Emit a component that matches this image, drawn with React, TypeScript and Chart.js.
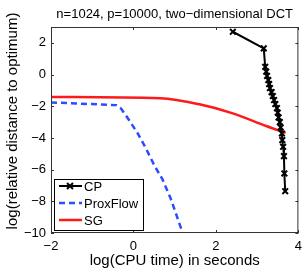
import React, { useEffect, useRef } from "react";
import { Chart, registerables } from "chart.js";

Chart.register(...registerables);

const titleText = "n=1024, p=10000, two\u2212dimensional DCT";
const xLabel = "log(CPU time) in seconds";
const yLabel = "log(relative distance to optimum)";
const xTicks = [-2, 0, 2, 4];
const yTicks = [-10, -8, -6, -4, -2, 0, 2];

const cpX = [2.41, 3.16, 3.195, 3.22, 3.24, 3.27, 3.29, 3.31, 3.35, 3.38, 3.41, 3.44, 3.48, 3.5, 3.52, 3.55, 3.57, 3.6, 3.61, 3.63, 3.65, 3.66, 3.68];
const cpY = [2.7, 1.65, 0.49, 0.18, -0.09, -0.35, -0.6, -0.85, -1.11, -1.36, -1.61, -1.86, -2.12, -2.41, -2.71, -3.0, -3.34, -3.72, -4.14, -4.56, -5.15, -6.24, -7.36];

const pfX = [-2, -0.42, -0.3, -0.1, 0.1, 0.3, 0.5, 0.7, 0.9, 1.1, 1.3];
const pfY = [-1.76, -1.93, -2.15, -2.9, -3.7, -4.65, -5.7, -6.6, -7.8, -9.3, -10.8];

const sgX = [-2, 0.65, 1.6, 2.41, 3.22, 3.69];
const sgY = [-1.42, -1.5, -1.88, -2.45, -3.25, -3.68];

const FONT = "'Liberation Sans', Arial, Helvetica, sans-serif";
const fmt = (v: number) => (v < 0 ? "\u2212" + Math.abs(v) : String(v));

const zip = (xs: number[], ys: number[]) => xs.map((x, i) => ({ x, y: ys[i] }));

const decor = {
  id: "decor",
  afterDraw(chart: any) {
    const { ctx, chartArea: a, scales } = chart;
    const xs = scales.x;
    const ys = scales.y;
    ctx.save();
    // box
    ctx.strokeStyle = "#333";
    ctx.lineWidth = 1;
    ctx.strokeRect(a.left + 0.5, a.top + 0.5, a.right - a.left - 1, a.bottom - a.top - 1);
    // inward ticks
    const tl = 3;
    ctx.beginPath();
    xTicks.forEach((v) => {
      const px = Math.round(xs.getPixelForValue(v)) + 0.5;
      ctx.moveTo(px, a.bottom);
      ctx.lineTo(px, a.bottom - tl);
      ctx.moveTo(px, a.top);
      ctx.lineTo(px, a.top + tl);
    });
    yTicks.forEach((v) => {
      const py = Math.round(ys.getPixelForValue(v)) + 0.5;
      ctx.moveTo(a.left, py);
      ctx.lineTo(a.left + tl, py);
      ctx.moveTo(a.right, py);
      ctx.lineTo(a.right - tl, py);
    });
    ctx.stroke();

    // title
    ctx.fillStyle = "#000";
    ctx.font = "13px " + FONT;
    ctx.textAlign = "center";
    ctx.textBaseline = "middle";
    ctx.fillText(titleText, (a.left + a.right) / 2, 14);
    // x label
    ctx.font = "15px " + FONT;
    ctx.fillText(xLabel, (a.left + a.right) / 2, 261);
    // y label
    ctx.save();
    ctx.translate(13, 121);
    ctx.rotate(-Math.PI / 2);
    ctx.fillText(yLabel, 0, 0);
    ctx.restore();

    // legend
    const lx = 54, ly = 179, lw = 89, lh = 51;
    ctx.fillStyle = "#fff";
    ctx.fillRect(lx, ly, lw, lh);
    ctx.strokeStyle = "#000";
    ctx.lineWidth = 1;
    ctx.strokeRect(lx + 0.5, ly + 0.5, lw, lh);
    const rows = [186, 203, 220];
    chart.data.datasets.forEach((ds: any, i: number) => {
      const y = rows[i];
      ctx.save();
      ctx.strokeStyle = ds.borderColor;
      ctx.lineWidth = ds.borderWidth;
      ctx.setLineDash(ds.borderDash || []);
      ctx.beginPath();
      ctx.moveTo(59, y);
      ctx.lineTo(82, y);
      ctx.stroke();
      ctx.setLineDash([]);
      if (ds.pointStyle === "crossRot") {
        const r = 3;
        ctx.lineWidth = 2;
        ctx.beginPath();
        ctx.moveTo(70 - r, y - r);
        ctx.lineTo(70 + r, y + r);
        ctx.moveTo(70 + r, y - r);
        ctx.lineTo(70 - r, y + r);
        ctx.stroke();
      }
      ctx.restore();
      ctx.fillStyle = "#000";
      ctx.font = "13px " + FONT;
      ctx.textAlign = "left";
      ctx.textBaseline = "middle";
      ctx.fillText(ds.label, 84, y + 1);
    });
    ctx.restore();
  },
};

export default function App() {
  const ref = useRef<HTMLCanvasElement>(null);
  useEffect(() => {
    if (!ref.current) return;
    const chart = new Chart(ref.current, {
      type: "scatter",
      data: {
        datasets: [
          {
            label: "CP",
            data: zip(cpX, cpY),
            showLine: true,
            borderColor: "#000",
            backgroundColor: "#000",
            borderWidth: 2,
            pointStyle: "crossRot",
            pointRadius: 4,
            pointBorderWidth: 2,
          },
          {
            label: "ProxFlow",
            data: zip(pfX, pfY),
            showLine: true,
            borderColor: "#2b4cff",
            backgroundColor: "#2b4cff",
            borderWidth: 2.5,
            borderDash: [6, 4],
            pointRadius: 0,
          },
          {
            label: "SG",
            data: zip(sgX, sgY),
            showLine: true,
            borderColor: "#ff1a1a",
            backgroundColor: "#ff1a1a",
            borderWidth: 2.5,
            pointRadius: 0,
            cubicInterpolationMode: "monotone",
          },
        ] as any,
      },
      options: {
        animation: false,
        responsive: false,
        maintainAspectRatio: false,
        layout: { padding: { top: 27, right: 9, left: 0, bottom: 0 } },
        plugins: { legend: { display: false }, tooltip: { enabled: false }, title: { display: false } },
        scales: {
          x: {
            type: "linear",
            min: -2,
            max: 4,
            afterFit: (s: any) => { s.height = 36; },
            afterBuildTicks: (s: any) => { s.ticks = xTicks.map((v) => ({ value: v })); },
            grid: { display: false, drawTicks: false },
            border: { display: false },
            ticks: { color: "#000", font: { size: 13, family: FONT }, padding: 6, maxRotation: 0, callback: (v: any) => fmt(Number(v)) },
          },
          y: {
            type: "linear",
            min: -10,
            max: 3,
            afterFit: (s: any) => { s.width = 51; },
            afterBuildTicks: (s: any) => { s.ticks = yTicks.map((v) => ({ value: v })); },
            grid: { display: false, drawTicks: false },
            border: { display: false },
            ticks: { color: "#000", font: { size: 13, family: FONT }, padding: 5, callback: (v: any) => fmt(Number(v)) },
          },
        },
      },
      plugins: [decor],
    });
    return () => chart.destroy();
  }, []);
  return (
    <div style={{ position: "fixed", left: 0, top: 0, width: 308, height: 269, background: "#fff" }}>
      <canvas ref={ref} width={308} height={269} style={{ display: "block" }} />
    </div>
  );
}
